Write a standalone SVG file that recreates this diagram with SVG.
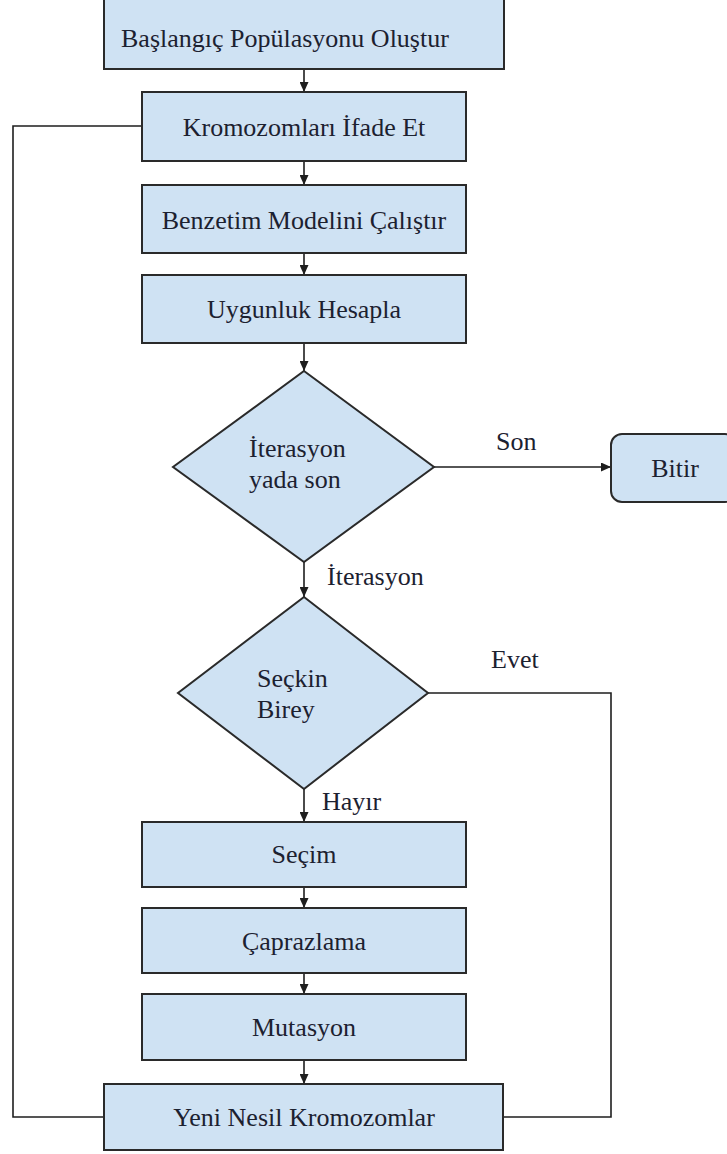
<svg xmlns="http://www.w3.org/2000/svg" width="727" height="1154" viewBox="0 0 727 1154">
<defs>
<marker id="ah" markerUnits="userSpaceOnUse" markerWidth="10" markerHeight="9" refX="10" refY="4.5" orient="auto">
<path d="M0,0 L10,4.5 L0,9 z" fill="#1e1e1e"/>
</marker>
<style>
.box{fill:#cfe2f3;stroke:#2a2a2a;stroke-width:2}
.t{font-family:"Liberation Serif","Times New Roman",serif;font-size:26px;fill:#1c2130}
.c{text-anchor:middle}
.ln{fill:none;stroke:#1e1e1e;stroke-width:1.6}
.ar{marker-end:url(#ah)}
</style>
</defs>
<rect width="727" height="1154" fill="#ffffff"/>
<g id="connectors">
<line class="ln ar" x1="304" y1="69" x2="304" y2="92"/>
<line class="ln ar" x1="304" y1="161" x2="304" y2="185"/>
<line class="ln ar" x1="304" y1="253" x2="304" y2="275"/>
<line class="ln ar" x1="304" y1="343" x2="304" y2="371"/>
<line class="ln ar" x1="434" y1="467" x2="611" y2="467"/>
<line class="ln ar" x1="304" y1="562" x2="304" y2="597"/>
<line class="ln ar" x1="304" y1="789" x2="304" y2="822"/>
<line class="ln ar" x1="304" y1="887" x2="304" y2="908"/>
<line class="ln ar" x1="304" y1="973" x2="304" y2="994"/>
<line class="ln ar" x1="304" y1="1060" x2="304" y2="1084"/>
<polyline class="ln" points="428,693 611,693 611,1117 503,1117"/>
<polyline class="ln" points="104,1117 13,1117 13,126 142,126"/>
<text class="t" x="496" y="450">Son</text>
<text class="t" x="327" y="585">İterasyon</text>
<text class="t" x="491" y="668">Evet</text>
<text class="t" x="322" y="810">Hayır</text>
</g>
<g id="n1"><rect class="box" x="104" y="-2" width="400" height="71"/><text class="t" x="121" y="47">Başlangıç Popülasyonu Oluştur</text></g>
<g id="n2"><rect class="box" x="142" y="92" width="324" height="69"/><text class="t c" x="304" y="136">Kromozomları İfade Et</text></g>
<g id="n3"><rect class="box" x="142" y="185" width="324" height="68"/><text class="t c" x="304" y="229">Benzetim Modelini Çalıştır</text></g>
<g id="n4"><rect class="box" x="142" y="275" width="324" height="68"/><text class="t c" x="304" y="318">Uygunluk Hesapla</text></g>
<g id="n5"><polygon class="box" points="304,371 434,467 304,562 173,467"/><text class="t" x="249" y="457">İterasyon</text><text class="t" x="249" y="488">yada son</text></g>
<g id="n6"><rect class="box" x="611" y="434" width="125" height="68" rx="11" ry="11"/><text class="t c" x="675" y="477">Bitir</text></g>
<g id="n7"><polygon class="box" points="304,597 428,693 304,789 178,693"/><text class="t" x="257" y="687">Seçkin</text><text class="t" x="257" y="718">Birey</text></g>
<g id="n8"><rect class="box" x="142" y="822" width="324" height="65"/><text class="t c" x="304" y="863">Seçim</text></g>
<g id="n9"><rect class="box" x="142" y="908" width="324" height="65"/><text class="t c" x="304" y="950">Çaprazlama</text></g>
<g id="n10"><rect class="box" x="142" y="994" width="324" height="66"/><text class="t c" x="304" y="1036">Mutasyon</text></g>
<g id="n11"><rect class="box" x="104" y="1084" width="399" height="66"/><text class="t c" x="304" y="1126">Yeni Nesil Kromozomlar</text></g>
</svg>
